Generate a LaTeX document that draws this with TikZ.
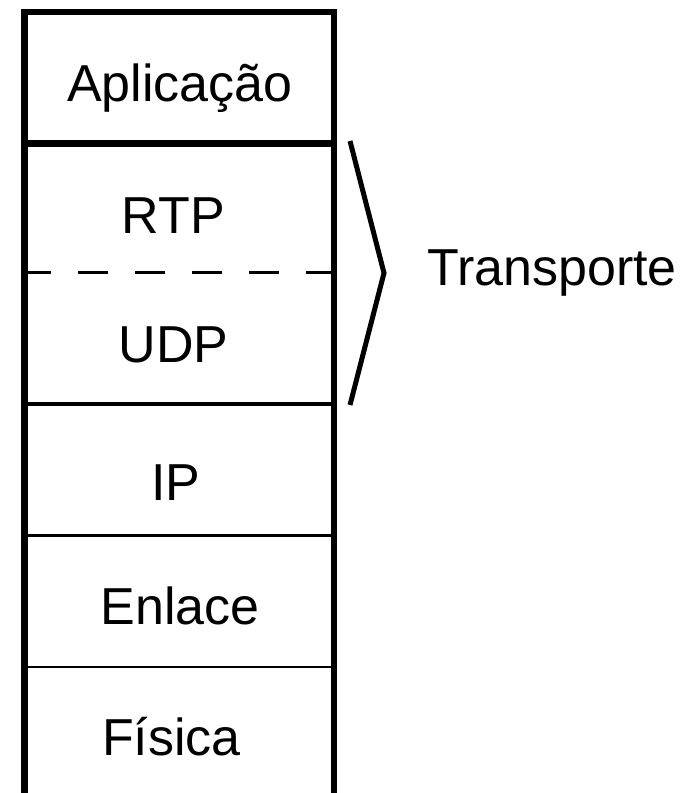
\documentclass[tikz,border=0pt]{standalone}
\usepackage{fontspec}
\setmainfont{Liberation Sans}
\begin{document}
\begin{tikzpicture}[x=1pt,y=-1pt,
  layer/.style={anchor=base,inner sep=0pt,font=\fontsize{52}{60}\selectfont},
  wall/.style={line width=6.5pt},
  brace/.style={line width=5pt,line join=miter}]
\useasboundingbox (0,0) rectangle (686,793);
% outer walls
\draw[wall] (24.5,9) -- (24.5,793);
\draw[wall] (334,9) -- (334,793);
% horizontal separators
\draw[line width=6pt] (21,12) -- (337,12);
\draw[line width=7pt] (24,143.5) -- (334,143.5);
\draw[line width=3pt,dash pattern=on 30pt off 27pt] (21,272) -- (336,272);
\draw[line width=4pt] (24,404) -- (334,404);
\draw[line width=3pt] (24,535.5) -- (334,535.5);
\draw[line width=2.5pt] (24,667) -- (334,667);
% layer labels
\node[layer] (apl) at (180,101) {Aplicação};
\node[layer] (rtp) at (173.5,233) {RTP};
\node[layer] (udp) at (173.5,362) {UDP};
\node[layer] (ip) at (176,500) {IP};
\node[layer] (enl) at (180,624) {Enlace};
\node[layer] (fis) at (171.5,755) {Física};
% bracket
\coordinate (bt) at (350,141);
\coordinate (bm) at (384,273);
\coordinate (bb) at (350,405);
\draw[brace] (bt) -- (bm) -- (bb);
\node[layer,anchor=base west] (tra) at (427,285) {Transporte};
\end{tikzpicture}
\end{document}
